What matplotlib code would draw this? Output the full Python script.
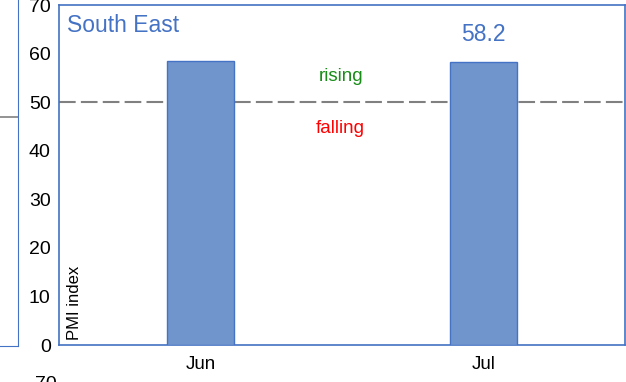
import matplotlib
matplotlib.use('Agg')
from matplotlib import pyplot as plt
import numpy as np

plt.rcParams['font.family'] = ['Liberation Sans', 'DejaVu Sans']

# data
months = ['Jun', 'Jul']
pmi = [58.5, 58.2]
region = 'South East'
threshold = 50
yticks = [0, 10, 20, 30, 40, 50, 60, 70]

blue = '#4472C4'
bar_fill = '#7094CC'

W, H = 626, 382
fig = plt.figure(figsize=(W / 100, H / 100), dpi=100)

# fragment of the neighbouring panel on the left
nb = fig.add_axes([-0.2, 36 / H, 0.2 + 18 / W, 1.1])
nb.set_xticks([])
nb.set_yticks([])
for s in ['top', 'left']:
    nb.spines[s].set_visible(False)
for s in ['right', 'bottom']:
    nb.spines[s].set_color(blue)
nb.axhline(0.545, color='#808080', lw=1.2)
nb.set_ylim(0, 1)
fig.text(46 / W, 1 - 376 / H, '70', fontsize=14, ha='center', va='top')

ax = fig.add_axes([59 / W, 37 / H, 566 / W, 340 / H])
x = np.arange(len(months))
ax.bar(x, pmi, width=0.24, color=bar_fill, edgecolor=blue, linewidth=1, zorder=3)
ax.axhline(threshold, color='#808080', lw=1.5, dashes=(8, 2.5), zorder=2)

ax.set_xlim(-0.5, 1.5)
ax.set_ylim(0, 70)
ax.set_yticks(yticks)
ax.set_xticks(x)
ax.set_xticklabels(months)
ax.tick_params(axis='y', length=0, labelsize=14, pad=6)
ax.tick_params(axis='x', length=0, labelsize=13.5, pad=8)
for s in ax.spines.values():
    s.set_color(blue)
    s.set_linewidth(1.2)

ax.text(0.015, 0.94, region, transform=ax.transAxes, color=blue, fontsize=16.5,
        ha='left', va='center')
ax.text(x[1], pmi[1] + 3.3, '%.1f' % pmi[1], color=blue, fontsize=16.5,
        ha='center', va='bottom')
ax.text(0.495, 55.3, 'rising', color='#178C17', fontsize=13.5, ha='center', va='center')
ax.text(0.495, 44.6, 'falling', color='#FF0000', fontsize=13.5, ha='center', va='center')
ax.text(0.028, 0.015, 'PMI index', transform=ax.transAxes, rotation=90,
        fontsize=12, ha='center', va='bottom')

fig.savefig('out.png', dpi=100)
